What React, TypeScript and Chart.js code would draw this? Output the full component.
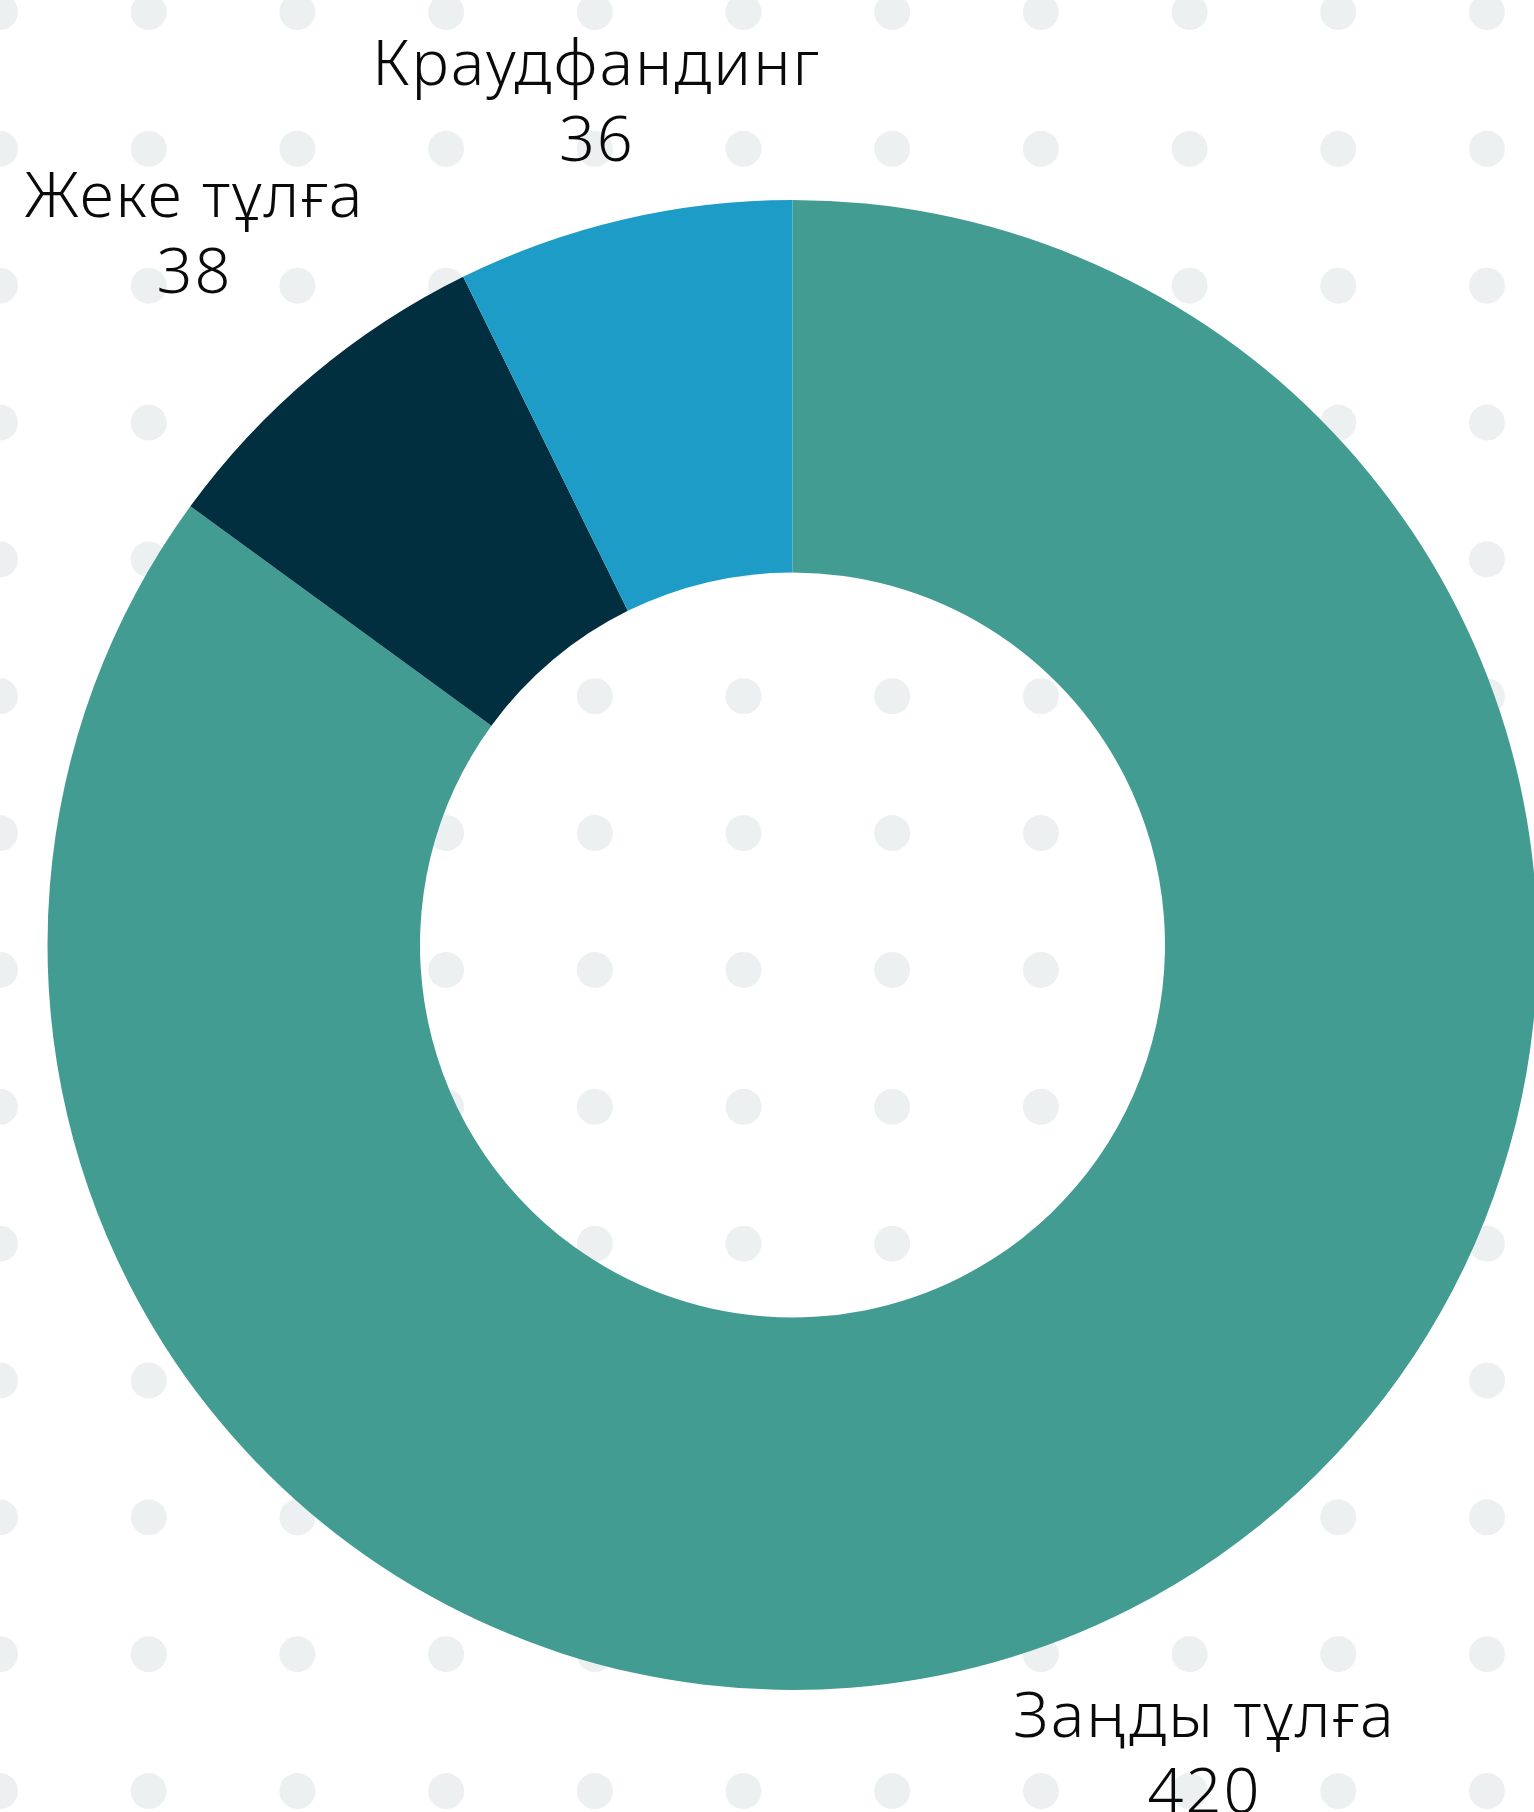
import React, { useEffect, useRef } from "react";
import { Chart, registerables } from "chart.js";

Chart.register(...registerables);

// ---- data ----
const categories = ["Заңды тұлға", "Жеке тұлға", "Краудфандинг"];
const values = [420, 38, 36];
const sliceColors = ["#439C92", "#022F40", "#1E9CC8"];

// ---- style constants ----
const PAGE_W = 1534;
const PAGE_H = 1812;
const CANVAS_W = 1560;
const FONT_FAMILY = '"Noto Sans", sans-serif';
const FONT_WEIGHT = 300;
const FONT_SIZE = 63;
const LETTER_SPACING = 2;
const CAP_H = 44;
const LINE_H = 76;
const LABEL_GAPS = [21, 30, 12];
const DOT_COLOR = "#EDF0F1";
const DOT_R = 18;
const DOT_DX = 148.7;
const DOT_DY = 136.85;
const DOT_Y0 = 12;

const dotsPlugin = {
  id: "dotsBackground",
  beforeDraw(chart: any) {
    const ctx = chart.ctx;
    ctx.save();
    ctx.fillStyle = "#FFFFFF";
    ctx.fillRect(0, 0, chart.width, chart.height);
    ctx.fillStyle = DOT_COLOR;
    for (let y = DOT_Y0; y < chart.height + DOT_R; y += DOT_DY) {
      for (let x = 0; x < chart.width + DOT_R; x += DOT_DX) {
        ctx.beginPath();
        ctx.arc(x, y, DOT_R, 0, Math.PI * 2);
        ctx.fill();
      }
    }
    ctx.restore();
  },
};

const outerLabelsPlugin = {
  id: "outerLabels",
  afterDatasetsDraw(chart: any) {
    const ctx = chart.ctx;
    const meta = chart.getDatasetMeta(0);
    const data = chart.data.datasets[0].data as number[];
    const labels = chart.data.labels as string[];
    ctx.save();
    ctx.font = `${FONT_WEIGHT} ${FONT_SIZE}px ${FONT_FAMILY}`;
    try {
      (ctx as any).letterSpacing = `${LETTER_SPACING}px`;
    } catch (e) {
      /* ignore */
    }
    ctx.fillStyle = "#0A0A0A";
    ctx.textAlign = "center";
    ctx.textBaseline = "alphabetic";
    meta.data.forEach((arc: any, i: number) => {
      const p = arc.getProps(["x", "y", "startAngle", "endAngle", "outerRadius"], true);
      const mid = (p.startAngle + p.endAngle) / 2;
      const ux = Math.cos(mid);
      const uy = Math.sin(mid);
      const line1 = String(labels[i]);
      const line2 = String(data[i]);
      const w = Math.max(ctx.measureText(line1).width, ctx.measureText(line2).width);
      const h = CAP_H + LINE_H;
      const gap = LABEL_GAPS[i] ?? 20;
      const dist = p.outerRadius + gap + (w / 2) * Math.abs(ux) + (h / 2) * Math.abs(uy);
      const cx = p.x + ux * dist + LETTER_SPACING / 2;
      const cy = p.y + uy * dist;
      const b1 = cy - h / 2 + CAP_H;
      ctx.fillText(line1, cx, b1);
      ctx.fillText(line2, cx, b1 + LINE_H);
    });
    ctx.restore();
  },
};

export default function App() {
  const canvasRef = useRef<HTMLCanvasElement | null>(null);

  useEffect(() => {
    const canvas = canvasRef.current;
    if (!canvas) return;
    const chart = new Chart(canvas, {
      type: "doughnut",
      data: {
        labels: categories,
        datasets: [
          {
            data: values,
            backgroundColor: sliceColors,
            borderWidth: 0,
            hoverOffset: 0,
          },
        ],
      },
      options: {
        responsive: false,
        animation: false,
        cutout: "50%",
        rotation: 0,
        layout: {
          padding: { top: 200, bottom: 122, left: 47.5, right: CANVAS_W - 1537.5 },
        },
        plugins: {
          legend: { display: false },
          tooltip: { enabled: false },
        },
        events: [],
      },
      plugins: [dotsPlugin, outerLabelsPlugin],
    });
    return () => chart.destroy();
  }, []);

  return (
    <div
      style={{
        position: "absolute",
        left: 0,
        top: 0,
        width: PAGE_W,
        height: PAGE_H,
        overflow: "hidden",
        background: "#FFFFFF",
      }}
    >
      <canvas
        ref={canvasRef}
        width={CANVAS_W}
        height={PAGE_H}
        style={{ display: "block", width: CANVAS_W, height: PAGE_H }}
      />
    </div>
  );
}
